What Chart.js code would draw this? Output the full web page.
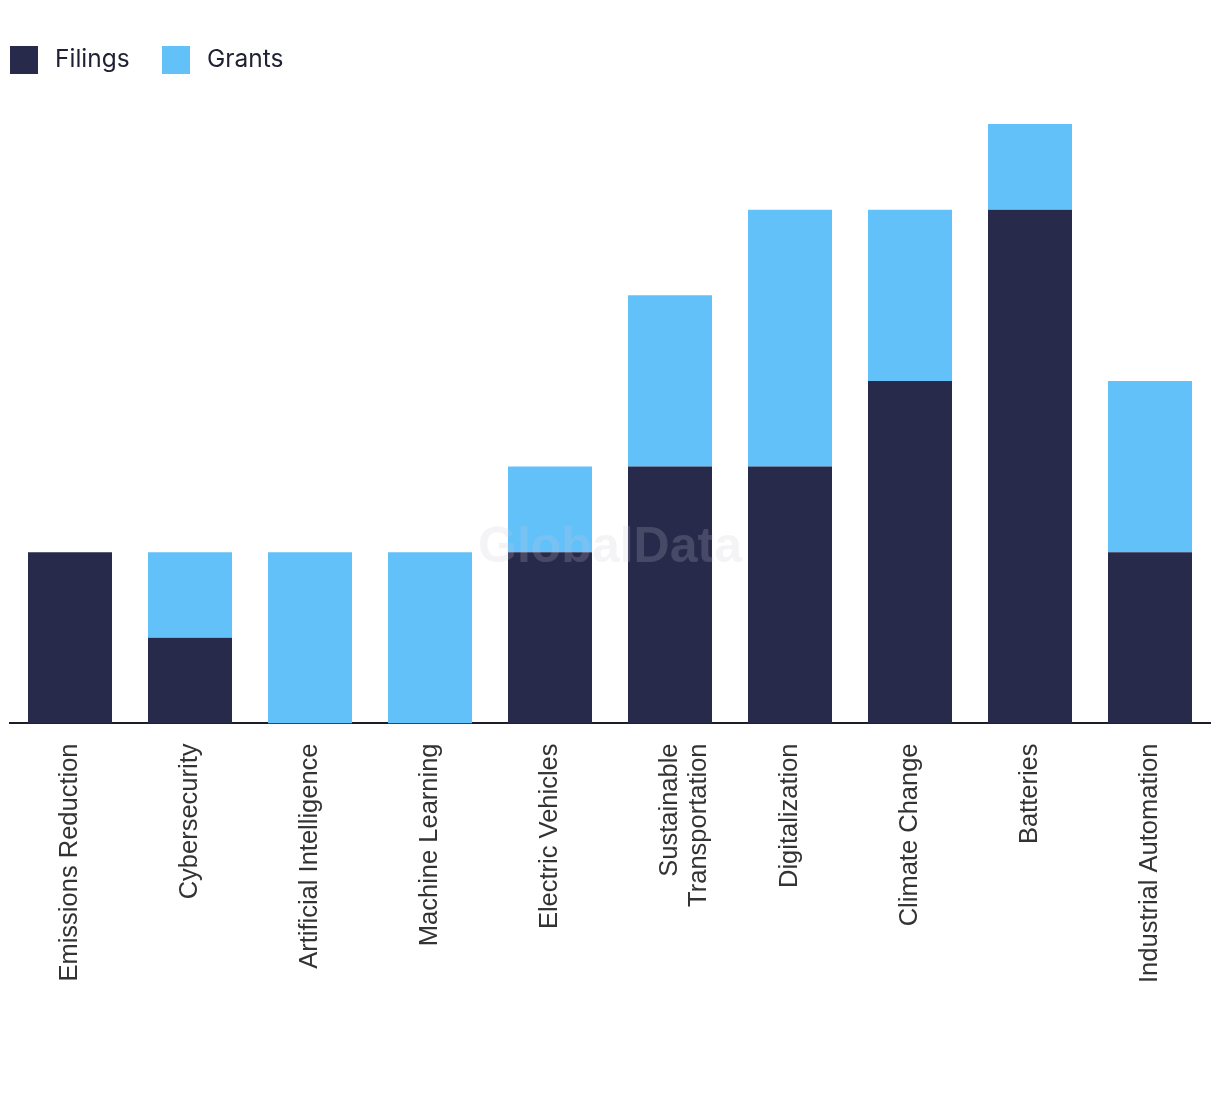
<!DOCTYPE html>
<html>
<head>
<meta charset="utf-8">
<script src="https://cdn.jsdelivr.net/npm/chart.js@4"></script>
<style>
  html, body { margin: 0; padding: 0; background: #fff; }
  #wrap { width: 1220px; height: 1094px; position: relative; }
  .lg { position: absolute; top: 46px; height: 28px; display: flex; align-items: center;
        font-family: Inter, "Noto Sans", sans-serif; font-size: 24.5px; color: #1f2033; }
  .lg .sw { width: 28px; height: 28px; margin-right: 17px; flex: none; }
  .lg .tx { position: relative; top: -2px; }
</style>
</head>
<body>
<div id="wrap">
  <canvas id="c"></canvas>
  <div class="lg" style="left:10px"><span class="sw" id="sw0"></span><span class="tx" id="tx0"></span></div>
  <div class="lg" style="left:162px"><span class="sw" id="sw1"></span><span class="tx" id="tx1"></span></div>
</div>
<script>
const categories = [
  "Emissions Reduction", "Cybersecurity", "Artificial Intelligence", "Machine Learning",
  "Electric Vehicles", ["Sustainable", "Transportation"], "Digitalization",
  "Climate Change", "Batteries", "Industrial Automation"
];
const filings = [2, 1, 0, 0, 2, 3, 3, 4, 6, 2];
const grants  = [0, 1, 2, 2, 1, 2, 3, 2, 1, 2];
const seriesNames = ["Filings", "Grants"];
const seriesColors = ["#282A4B", "#63C1F9"];

seriesNames.forEach((n, i) => {
  document.getElementById('tx' + i).textContent = n;
  document.getElementById('sw' + i).style.background = seriesColors[i];
});

const watermark = {
  id: 'watermark',
  afterDatasetsDraw(chart) {
    const ctx = chart.ctx;
    const a = chart.chartArea;
    ctx.save();
    ctx.font = 'bold 50px "Liberation Sans", Arial, sans-serif';
    ctx.fillStyle = 'rgba(200,200,215,0.2)';
    ctx.textAlign = 'center';
    ctx.textBaseline = 'middle';
    ctx.fillText('GlobalData', (a.left + a.right) / 2, 548);
    ctx.restore();
  }
};

new Chart(document.getElementById('c'), {
  type: 'bar',
  data: {
    labels: categories,
    datasets: [
      { label: seriesNames[0], data: filings, backgroundColor: seriesColors[0], borderWidth: 0 },
      { label: seriesNames[1], data: grants, backgroundColor: seriesColors[1], borderWidth: 0 }
    ]
  },
  options: {
    responsive: true,
    maintainAspectRatio: false,
    animation: false,
    layout: { padding: { left: 10, right: 10, top: 124, bottom: 91 } },
    datasets: { bar: { categoryPercentage: 1.0, barPercentage: 0.7 } },
    plugins: {
      legend: { display: false },
      tooltip: { enabled: false }
    },
    scales: {
      x: {
        stacked: true,
        grid: { display: false, drawTicks: false },
        border: { display: true, color: '#1c1c2a', width: 2 },
        ticks: {
          minRotation: 90, maxRotation: 90, padding: 20,
          color: '#333333',
          font: { family: '"Liberation Sans", Arial, sans-serif', size: 25.5, lineHeight: 1.15 }
        }
      },
      y: {
        stacked: true,
        display: false,
        min: 0,
        max: 7
      }
    }
  },
  plugins: [watermark]
});
</script>
</body>
</html>
